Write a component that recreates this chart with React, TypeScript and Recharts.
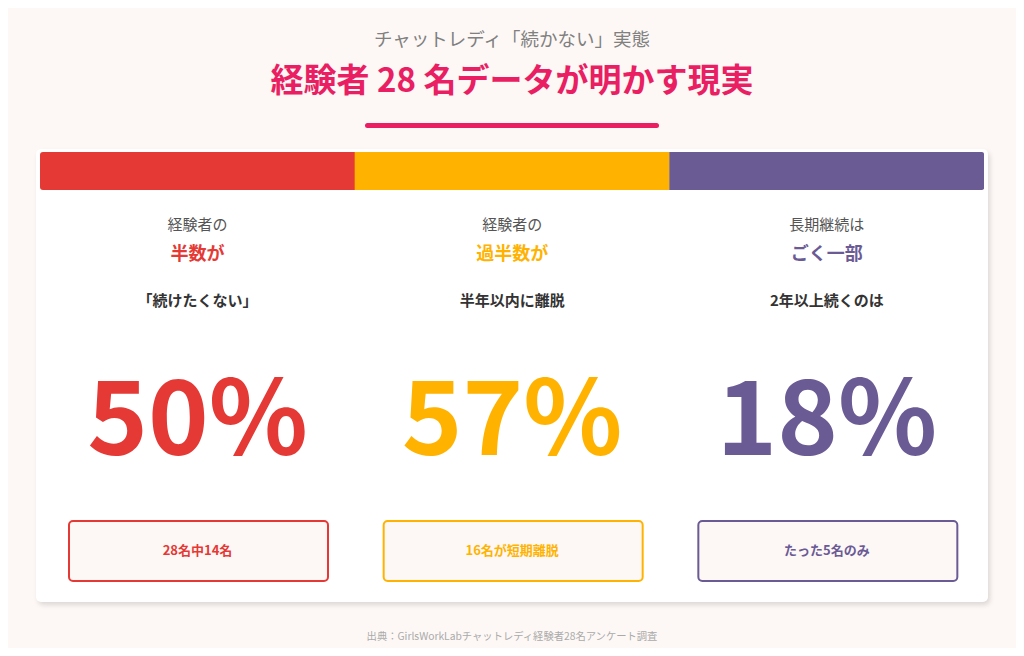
import React from "react";
import { BarChart, Bar, XAxis, YAxis, Cell } from "recharts";

const keys = ["half", "majority", "few"];
const leadTexts = ["経験者の", "経験者の", "長期継続は"];
const highlightTexts = ["半数が", "過半数が", "ごく一部"];
const captions = ["「続けたくない」", "半年以内に離脱", "2年以上続くのは"];
const percents = [50, 57, 18];
const notes = ["28名中14名", "16名が短期離脱", "たった5名のみ"];
const colors = ["#e53935", "#ffb300", "#6b5b95"];

const FONT = '"Noto Sans CJK JP", "Noto Sans", sans-serif';
const PINK = "#e91e63";
const CREAM = "#fdf8f5";

const data = keys.map((k, i) => ({
  key: k,
  lead: leadTexts[i],
  highlight: highlightTexts[i],
  caption: captions[i],
  pct: percents[i],
  note: notes[i],
}));

function ColumnShape(props: any) {
  const { x, width, payload, index } = props;
  const color = colors[index];
  const cx = x + width / 2;
  const first = index === 0;
  const last = index === keys.length - 1;
  const r = 3;
  const h = 38;
  // header band, outer corners rounded
  const path = [
    `M${x + (first ? r : 0)},0`,
    `L${x + width - (last ? r : 0)},0`,
    last ? `Q${x + width},0 ${x + width},${r}` : "",
    `L${x + width},${h - (last ? r : 0)}`,
    last ? `Q${x + width},${h} ${x + width - r},${h}` : "",
    `L${x + (first ? r : 0)},${h}`,
    first ? `Q${x},${h} ${x},${h - r}` : "",
    `L${x},${first ? r : 0}`,
    first ? `Q${x},0 ${x + r},0` : "",
    "Z",
  ].join(" ");
  return (
    <g fontFamily={FONT} textAnchor="middle">
      <path d={path} fill={color} />
      <text x={cx} y={78} fontSize={15} fill="#555">
        {payload.lead}
      </text>
      <text x={cx} y={108} fontSize={18} fontWeight={700} fill={color}>
        {payload.highlight}
      </text>
      <text x={cx} y={154} fontSize={15} fontWeight={700} fill="#333">
        {payload.caption}
      </text>
      <text x={cx} y={303} fontSize={103} fontWeight={700} fill={color}>
        {payload.pct}%
      </text>
      <rect
        x={x + 29}
        y={369}
        width={width - 56}
        height={60}
        rx={4}
        fill={CREAM}
        stroke={color}
        strokeWidth={2}
      />
      <text x={cx} y={403} fontSize={13} fontWeight={700} fill={color}>
        {payload.note}
      </text>
    </g>
  );
}

export default function App() {
  return (
    <div
      style={{
        position: "relative",
        width: 1008,
        height: 640,
        background: CREAM,
        fontFamily: FONT,
      }}
    >
      <svg
        width={1008}
        height={640}
        style={{ position: "absolute", left: 0, top: 0 }}
        fontFamily={FONT}
      >
        <text x={504} y={38} textAnchor="middle" fontSize={18.5} fill="#808080">
          チャットレディ「続かない」実態
        </text>
        <text
          x={504}
          y={84}
          textAnchor="middle"
          fontSize={33}
          fontWeight={700}
          fill={PINK}
        >
          経験者 28 名データが明かす現実
        </text>
        <rect x={357} y={115} width={294} height={5} rx={2.5} fill={PINK} />
        <text x={504} y={632} textAnchor="middle" fontSize={10.3} fill="#aaa">
          出典：GirlsWorkLabチャットレディ経験者28名アンケート調査
        </text>
      </svg>
      <div
        style={{
          position: "absolute",
          left: 28,
          top: 141,
          width: 952,
          height: 453,
          background: "#fff",
          borderRadius: 5,
          boxShadow: "2px 3px 5px rgba(0,0,0,0.13)",
        }}
      />
      <div style={{ position: "absolute", left: 32, top: 144 }}>
        <BarChart
          width={944}
          height={450}
          data={data}
          margin={{ top: 0, right: 0, bottom: 0, left: 0 }}
          barCategoryGap={0}
        >
          <XAxis dataKey="key" hide />
          <YAxis hide domain={[0, 100]} />
          <Bar dataKey="pct" isAnimationActive={false} shape={ColumnShape}>
            {data.map((d, i) => (
              <Cell key={d.key} fill={colors[i]} />
            ))}
          </Bar>
        </BarChart>
      </div>
    </div>
  );
}
